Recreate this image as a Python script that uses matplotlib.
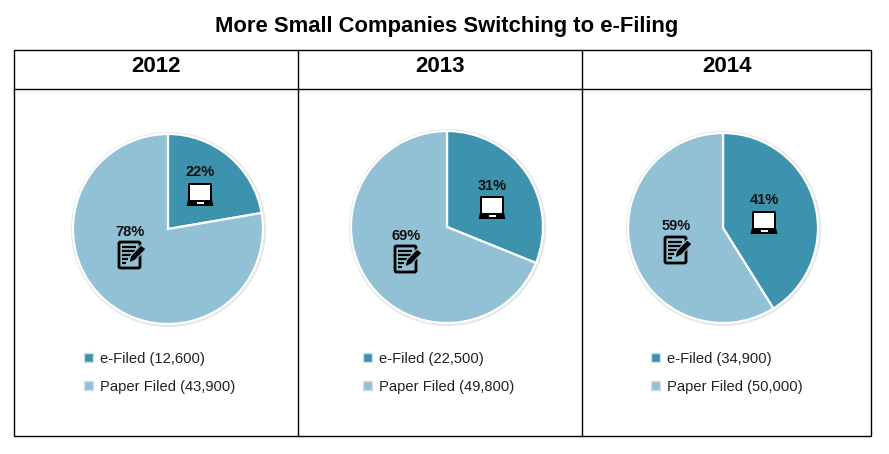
import matplotlib
matplotlib.use('Agg')
import matplotlib.pyplot as plt
from matplotlib.patches import Rectangle, FancyBboxPatch, Circle, Polygon

plt.rcParams['font.family'] = ['Liberation Sans', 'DejaVu Sans']

years = ['2012', '2013', '2014']
efiled = [12600, 22500, 34900]
paper = [43900, 49800, 50000]
efiled_pct = ['22%', '31%', '41%']
paper_pct = ['78%', '69%', '59%']

DARK = '#3d93ad'
LIGHT = '#92c0d5'

# layout in pixels of the reference
centers = [(168, 229), (447, 227), (723, 228)]
radii = [95, 96, 95]
laptop_pos = [(200, 195), (492, 208), (764, 223)]
note_pos = [(132, 255), (408, 259), (678, 250)]
legend_x = [88, 367, 655]
header_x = [156, 440, 727]
dividers = [298, 582]

fig = plt.figure(figsize=(8.89, 4.54), dpi=100)
ax = fig.add_axes([0, 0, 1, 1])


def draw_laptop(ax, cx, cy):
    ax.add_patch(FancyBboxPatch((cx - 12, cy - 12), 24, 18, boxstyle='round,pad=0,rounding_size=1.5',
                                fc='black', ec='none', zorder=5))
    ax.add_patch(Rectangle((cx - 10, cy - 10), 20, 15, fc='white', ec='none', zorder=6))
    ax.add_patch(Polygon([(cx - 12, cy + 5), (cx + 12, cy + 5), (cx + 13.5, cy + 11), (cx - 13.5, cy + 11)],
                         fc='black', ec='none', zorder=5))
    ax.add_patch(Rectangle((cx - 3.5, cy + 6.5), 7, 2.5, fc='white', ec='none', zorder=6))


def draw_note(ax, cx, cy):
    ax.add_patch(FancyBboxPatch((cx - 13, cy - 13), 21, 26, boxstyle='round,pad=0,rounding_size=1.5',
                                fc='none', ec='black', lw=2, zorder=5))
    for dy, w in [(-8, 14), (-4, 13), (0, 9), (4, 6), (8, 4)]:
        ax.plot([cx - 10, cx - 10 + w], [cy + dy, cy + dy], color='black', lw=1.6, zorder=5,
                solid_capstyle='butt')
    # pencil
    ax.add_patch(Polygon([(cx - 3, cy + 8), (cx - 1.5, cy + 1), (cx + 9, cy - 10), (cx + 14, cy - 6),
                          (cx + 3.5, cy + 5)], fc='black', ec=LIGHT, lw=0.8, zorder=6))


for i in range(3):
    cx, cy = centers[i]
    r = radii[i]
    # soft edge round the pie
    ax.add_patch(Circle((cx + 0.5, cy + 0.5), r + 2.5, fc='#e6e6e6', ec='none', zorder=1))
    ax.pie([efiled[i], paper[i]], colors=[DARK, LIGHT], center=(cx, cy), radius=r,
           startangle=-90, counterclock=True,
           wedgeprops={'edgecolor': 'white', 'linewidth': 1.6, 'zorder': 2})

    lx, ly = laptop_pos[i]
    nx, ny = note_pos[i]
    draw_laptop(ax, lx, ly)
    draw_note(ax, nx, ny)
    ax.text(lx, ly - 22.5, efiled_pct[i], ha='center', va='center', fontsize=10.5, fontweight='bold', color='#111111', zorder=7)
    ax.text(nx - 2, ny - 23.5, paper_pct[i], ha='center', va='center', fontsize=10.5, fontweight='bold', color='#111111', zorder=7)

    # legend rows
    for y, col, label in [(357, DARK, f'e-Filed ({efiled[i]:,})'), (385, LIGHT, f'Paper Filed ({paper[i]:,})')]:
        ax.add_patch(Rectangle((legend_x[i] - 4, y - 4.5), 9, 9, fc=col, ec='#cfe0e8', lw=1, zorder=3))
        ax.text(legend_x[i] + 12, y + 1.5, label, ha='left', va='center', fontsize=10.6, color='#222222')

    ax.text(header_x[i], 67, years[i], ha='center', va='center', fontsize=16, fontweight='bold', color='black')

ax.text(446.5, 26.5, 'More Small Companies Switching to e-Filing', ha='center', va='center',
        fontsize=15.85, fontweight='bold', color='black')

# table frame
ax.add_patch(Rectangle((14, 50), 857, 386, fc='none', ec='black', lw=1, zorder=8))
ax.plot([14, 871], [89, 89], color='black', lw=1, zorder=8)
for x in dividers:
    ax.plot([x, x], [50, 436], color='black', lw=1, zorder=8)

ax.set_aspect('auto')
ax.set_xlim(0, 889)
ax.set_ylim(454, 0)
ax.axis('off')

fig.savefig('out.png', dpi=100, facecolor='white')
